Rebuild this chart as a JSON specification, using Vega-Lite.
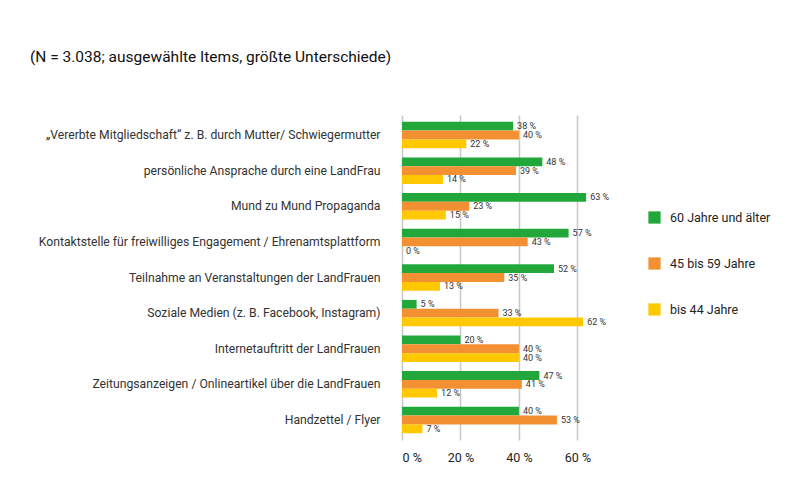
{
  "$schema": "https://vega.github.io/schema/vega-lite/v6.json",
  "autosize": {"type": "none"},
  "padding": {"left": 402, "top": 115, "right": 198, "bottom": 64},
  "width": 190,
  "height": 325,
  "background": "white",
  "title": {
    "text": "(N = 3.038; ausgewählte Items, größte Unterschiede)",
    "anchor": "start",
    "frame": "group",
    "dx": -372,
    "offset": 50,
    "font": "Roboto",
    "fontSize": 15.5,
    "fontWeight": "normal",
    "color": "#111111"
  },
  "config": {
    "view": {"stroke": null},
    "font": "Roboto"
  },
  "data": {
    "values": [
      {"item": "„Vererbte Mitgliedschaft“ z. B. durch Mutter/ Schwiegermutter", "gruppe": "60 Jahre und älter", "wert": 38},
      {"item": "„Vererbte Mitgliedschaft“ z. B. durch Mutter/ Schwiegermutter", "gruppe": "45 bis 59 Jahre", "wert": 40},
      {"item": "„Vererbte Mitgliedschaft“ z. B. durch Mutter/ Schwiegermutter", "gruppe": "bis 44 Jahre", "wert": 22},
      {"item": "persönliche Ansprache durch eine LandFrau", "gruppe": "60 Jahre und älter", "wert": 48},
      {"item": "persönliche Ansprache durch eine LandFrau", "gruppe": "45 bis 59 Jahre", "wert": 39},
      {"item": "persönliche Ansprache durch eine LandFrau", "gruppe": "bis 44 Jahre", "wert": 14},
      {"item": "Mund zu Mund Propaganda", "gruppe": "60 Jahre und älter", "wert": 63},
      {"item": "Mund zu Mund Propaganda", "gruppe": "45 bis 59 Jahre", "wert": 23},
      {"item": "Mund zu Mund Propaganda", "gruppe": "bis 44 Jahre", "wert": 15},
      {"item": "Kontaktstelle für freiwilliges Engagement / Ehrenamtsplattform", "gruppe": "60 Jahre und älter", "wert": 57},
      {"item": "Kontaktstelle für freiwilliges Engagement / Ehrenamtsplattform", "gruppe": "45 bis 59 Jahre", "wert": 43},
      {"item": "Kontaktstelle für freiwilliges Engagement / Ehrenamtsplattform", "gruppe": "bis 44 Jahre", "wert": 0},
      {"item": "Teilnahme an Veranstaltungen der LandFrauen", "gruppe": "60 Jahre und älter", "wert": 52},
      {"item": "Teilnahme an Veranstaltungen der LandFrauen", "gruppe": "45 bis 59 Jahre", "wert": 35},
      {"item": "Teilnahme an Veranstaltungen der LandFrauen", "gruppe": "bis 44 Jahre", "wert": 13},
      {"item": "Soziale Medien (z. B. Facebook, Instagram)", "gruppe": "60 Jahre und älter", "wert": 5},
      {"item": "Soziale Medien (z. B. Facebook, Instagram)", "gruppe": "45 bis 59 Jahre", "wert": 33},
      {"item": "Soziale Medien (z. B. Facebook, Instagram)", "gruppe": "bis 44 Jahre", "wert": 62},
      {"item": "Internetauftritt der LandFrauen", "gruppe": "60 Jahre und älter", "wert": 20},
      {"item": "Internetauftritt der LandFrauen", "gruppe": "45 bis 59 Jahre", "wert": 40},
      {"item": "Internetauftritt der LandFrauen", "gruppe": "bis 44 Jahre", "wert": 40},
      {"item": "Zeitungsanzeigen / Onlineartikel über die LandFrauen", "gruppe": "60 Jahre und älter", "wert": 47},
      {"item": "Zeitungsanzeigen / Onlineartikel über die LandFrauen", "gruppe": "45 bis 59 Jahre", "wert": 41},
      {"item": "Zeitungsanzeigen / Onlineartikel über die LandFrauen", "gruppe": "bis 44 Jahre", "wert": 12},
      {"item": "Handzettel / Flyer", "gruppe": "60 Jahre und älter", "wert": 40},
      {"item": "Handzettel / Flyer", "gruppe": "45 bis 59 Jahre", "wert": 53},
      {"item": "Handzettel / Flyer", "gruppe": "bis 44 Jahre", "wert": 7}
    ]
  },
  "encoding": {
    "y": {
      "field": "item",
      "type": "nominal",
      "sort": null,
      "title": null,
      "scale": {"paddingInner": 0.256, "paddingOuter": 0.19},
      "axis": {
        "domain": false,
        "ticks": false,
        "labelFontSize": 12.2,
        "labelColor": "#333333",
        "labelPadding": 22,
        "labelLimit": 400
      }
    },
    "yOffset": {
      "field": "gruppe",
      "type": "nominal",
      "sort": ["60 Jahre und älter", "45 bis 59 Jahre", "bis 44 Jahre"],
      "scale": {"paddingInner": 0, "paddingOuter": 0}
    },
    "x": {
      "field": "wert",
      "type": "quantitative",
      "title": null,
      "scale": {"domain": [0, 65], "nice": false},
      "axis": {
        "values": [0, 20, 40, 60],
        "labelExpr": "datum.value + ' %'",
        "domain": false,
        "ticks": false,
        "grid": true,
        "gridColor": "#c8c8c8",
        "gridWidth": 1.5,
        "labelFontSize": 12.5,
        "labelFontWeight": "normal",
        "labelColor": "#222222",
        "labelPadding": 11
      }
    }
  },
  "layer": [
    {
      "mark": {"type": "bar"},
      "encoding": {
        "color": {
          "field": "gruppe",
          "type": "nominal",
          "sort": ["60 Jahre und älter", "45 bis 59 Jahre", "bis 44 Jahre"],
          "scale": {
            "domain": ["60 Jahre und älter", "45 bis 59 Jahre", "bis 44 Jahre"],
            "range": ["#22a83a", "#f39132", "#ffc800"]
          },
          "legend": {
            "title": null,
            "orient": "none",
            "legendX": 246,
            "legendY": 96,
            "padding": 0,
            "symbolType": "square",
            "symbolSize": 150,
            "symbolStrokeWidth": 0,
            "labelFontSize": 12.5,
            "labelFontWeight": "normal",
            "labelColor": "#222222",
            "labelOffset": 9,
            "rowPadding": 33
          }
        }
      }
    },
    {
      "mark": {
        "type": "text",
        "align": "left",
        "baseline": "middle",
        "dx": 4,
        "fontSize": 9,
        "color": "#333333",
        "text": {"expr": "datum.wert + ' %'"}
      },
      "encoding": {
        "x": {"field": "wert", "type": "quantitative"}
      }
    }
  ]
}
